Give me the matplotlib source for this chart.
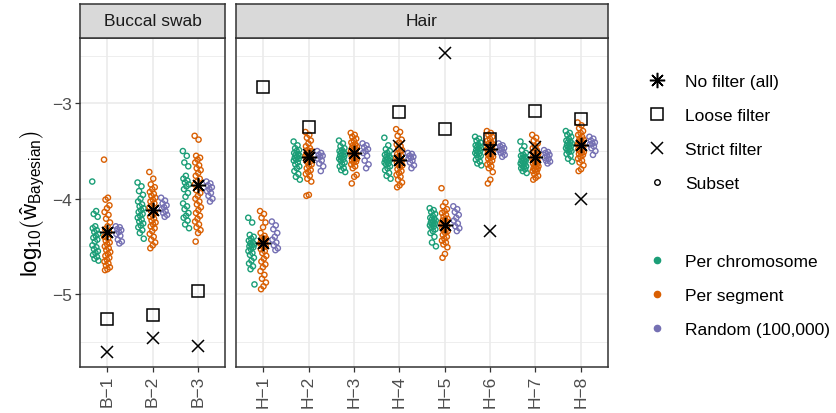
import numpy as np
import matplotlib
matplotlib.use('Agg')
import matplotlib.pyplot as plt
from matplotlib.lines import Line2D

plt.rcParams['font.family'] = ['Liberation Sans', 'DejaVu Sans']
plt.rcParams['mathtext.fontset'] = 'custom'
plt.rcParams['mathtext.rm'] = 'Liberation Sans'
plt.rcParams['mathtext.it'] = 'Liberation Sans:italic'
plt.rcParams['mathtext.bf'] = 'Liberation Sans:bold'

# samples
buccal = ['B\u22121', 'B\u22122', 'B\u22123']
hair = ['H\u22121', 'H\u22122', 'H\u22123', 'H\u22124', 'H\u22125', 'H\u22126', 'H\u22127', 'H\u22128']

# subset estimates, log10 scale
chrom_b1 = [-3.82, -4.13, -4.16, -4.19, -4.29, -4.31, -4.33, -4.35, -4.37, -4.39, -4.41, -4.43, -4.45, -4.49, -4.51, -4.53, -4.55, -4.57, -4.59, -4.61, -4.63, -4.65]
seg_b1 = [-3.59, -3.99, -4.01, -4.07, -4.10, -4.14, -4.17, -4.21, -4.25, -4.29, -4.32, -4.35, -4.38, -4.40, -4.42, -4.44, -4.46, -4.48, -4.50, -4.52, -4.54, -4.56, -4.58, -4.60, -4.62, -4.64, -4.66, -4.68, -4.70, -4.72, -4.74, -4.75]
rand_b1 = [-4.29, -4.30, -4.32, -4.33, -4.35, -4.37, -4.39, -4.43, -4.45, -4.47]

chrom_b2 = [-3.83, -3.87, -3.92, -3.96, -4.00, -4.03, -4.06, -4.08, -4.10, -4.12, -4.14, -4.16, -4.18, -4.20, -4.22, -4.24, -4.26, -4.28, -4.30, -4.33, -4.36, -4.42]
seg_b2 = [-3.72, -3.79, -3.85, -3.88, -3.90, -3.93, -3.95, -3.97, -3.99, -4.01, -4.03, -4.05, -4.07, -4.09, -4.11, -4.13, -4.15, -4.17, -4.19, -4.21, -4.23, -4.25, -4.27, -4.29, -4.31, -4.34, -4.37, -4.40, -4.43, -4.46, -4.49, -4.52]
rand_b2 = [-3.99, -4.02, -4.05, -4.07, -4.09, -4.11, -4.13, -4.15, -4.17, -4.19]

chrom_b3 = [-3.50, -3.55, -3.62, -3.66, -3.76, -3.79, -3.81, -3.83, -3.85, -3.87, -3.90, -3.94, -3.98, -4.05, -4.08, -4.11, -4.15, -4.18, -4.20, -4.23, -4.27, -4.31]
seg_b3 = [-3.34, -3.38, -3.55, -3.57, -3.59, -3.62, -3.65, -3.68, -3.70, -3.73, -3.76, -3.79, -3.82, -3.85, -3.88, -3.91, -3.94, -3.97, -4.00, -4.03, -4.06, -4.09, -4.12, -4.15, -4.18, -4.21, -4.24, -4.27, -4.30, -4.33, -4.36, -4.45]
rand_b3 = [-3.82, -3.84, -3.86, -3.88, -3.90, -3.92, -3.94, -3.97, -4.00, -4.03]

chrom_h1 = [-4.20, -4.25, -4.38, -4.40, -4.42, -4.44, -4.46, -4.47, -4.48, -4.49, -4.50, -4.51, -4.53, -4.55, -4.57, -4.59, -4.62, -4.65, -4.68, -4.71, -4.74, -4.90]
seg_h1 = [-4.13, -4.16, -4.20, -4.25, -4.30, -4.36, -4.39, -4.41, -4.42, -4.43, -4.44, -4.45, -4.46, -4.47, -4.48, -4.49, -4.50, -4.51, -4.53, -4.55, -4.57, -4.60, -4.63, -4.66, -4.69, -4.72, -4.76, -4.80, -4.84, -4.88, -4.92, -4.95]
rand_h1 = [-4.24, -4.28, -4.32, -4.36, -4.40, -4.43, -4.46, -4.49, -4.52, -4.54]

chrom_h2 = [-3.40, -3.44, -3.47, -3.49, -3.50, -3.52, -3.53, -3.54, -3.55, -3.56, -3.57, -3.58, -3.59, -3.60, -3.62, -3.64, -3.66, -3.68, -3.71, -3.74, -3.77, -3.80]
seg_h2 = [-3.30, -3.33, -3.36, -3.39, -3.42, -3.45, -3.47, -3.49, -3.50, -3.51, -3.52, -3.53, -3.54, -3.55, -3.56, -3.57, -3.58, -3.59, -3.60, -3.61, -3.62, -3.64, -3.66, -3.68, -3.70, -3.72, -3.74, -3.76, -3.79, -3.82, -3.96, -3.97]
rand_h2 = [-3.50, -3.52, -3.54, -3.55, -3.56, -3.58, -3.60, -3.63, -3.66, -3.71]

chrom_h3 = [-3.39, -3.42, -3.45, -3.47, -3.49, -3.50, -3.51, -3.52, -3.53, -3.54, -3.55, -3.56, -3.57, -3.58, -3.59, -3.60, -3.62, -3.64, -3.66, -3.68, -3.70, -3.72]
seg_h3 = [-3.31, -3.33, -3.35, -3.37, -3.39, -3.41, -3.43, -3.44, -3.45, -3.46, -3.47, -3.48, -3.49, -3.50, -3.51, -3.52, -3.53, -3.54, -3.55, -3.56, -3.57, -3.58, -3.59, -3.60, -3.61, -3.62, -3.64, -3.66, -3.68, -3.75, -3.77, -3.84]
rand_h3 = [-3.42, -3.44, -3.46, -3.48, -3.50, -3.52, -3.55, -3.60, -3.64, -3.68]

chrom_h4 = [-3.36, -3.44, -3.48, -3.50, -3.52, -3.54, -3.55, -3.56, -3.57, -3.58, -3.59, -3.60, -3.61, -3.62, -3.63, -3.64, -3.66, -3.68, -3.70, -3.73, -3.76, -3.79]
seg_h4 = [-3.27, -3.30, -3.34, -3.38, -3.41, -3.43, -3.45, -3.47, -3.49, -3.51, -3.53, -3.55, -3.56, -3.57, -3.58, -3.59, -3.60, -3.61, -3.62, -3.63, -3.64, -3.65, -3.67, -3.69, -3.71, -3.73, -3.75, -3.77, -3.80, -3.83, -3.86, -3.88]
rand_h4 = [-3.52, -3.53, -3.55, -3.56, -3.57, -3.58, -3.60, -3.62, -3.65, -3.68]

chrom_h5 = [-4.10, -4.12, -4.14, -4.16, -4.18, -4.20, -4.21, -4.22, -4.23, -4.24, -4.25, -4.26, -4.27, -4.28, -4.29, -4.30, -4.32, -4.34, -4.36, -4.40, -4.46, -4.50]
seg_h5 = [-3.89, -4.04, -4.08, -4.11, -4.13, -4.15, -4.17, -4.19, -4.21, -4.22, -4.23, -4.24, -4.25, -4.26, -4.27, -4.28, -4.29, -4.30, -4.31, -4.32, -4.33, -4.34, -4.36, -4.38, -4.40, -4.42, -4.44, -4.46, -4.48, -4.51, -4.58, -4.62]
rand_h5 = [-4.08, -4.11, -4.14, -4.17, -4.20, -4.23, -4.26, -4.29, -4.31, -4.34]

chrom_h6 = [-3.35, -3.37, -3.39, -3.41, -3.43, -3.44, -3.45, -3.46, -3.47, -3.48, -3.49, -3.50, -3.51, -3.52, -3.53, -3.54, -3.55, -3.57, -3.59, -3.61, -3.63, -3.65]
seg_h6 = [-3.29, -3.31, -3.33, -3.35, -3.37, -3.39, -3.41, -3.42, -3.43, -3.44, -3.45, -3.46, -3.47, -3.48, -3.49, -3.50, -3.51, -3.52, -3.53, -3.54, -3.55, -3.56, -3.57, -3.58, -3.60, -3.62, -3.64, -3.66, -3.68, -3.72, -3.80, -3.84]
rand_h6 = [-3.42, -3.44, -3.45, -3.47, -3.48, -3.49, -3.51, -3.52, -3.54, -3.56]

chrom_h7 = [-3.40, -3.45, -3.49, -3.52, -3.54, -3.55, -3.56, -3.57, -3.58, -3.59, -3.60, -3.61, -3.62, -3.63, -3.64, -3.65, -3.66, -3.67, -3.68, -3.69, -3.71, -3.73]
seg_h7 = [-3.33, -3.36, -3.39, -3.42, -3.45, -3.47, -3.49, -3.51, -3.53, -3.54, -3.55, -3.56, -3.57, -3.58, -3.59, -3.60, -3.61, -3.62, -3.63, -3.64, -3.65, -3.66, -3.67, -3.68, -3.69, -3.70, -3.71, -3.72, -3.74, -3.76, -3.78, -3.80]
rand_h7 = [-3.49, -3.51, -3.52, -3.54, -3.55, -3.57, -3.58, -3.60, -3.61, -3.63]

chrom_h8 = [-3.29, -3.31, -3.33, -3.35, -3.37, -3.39, -3.40, -3.41, -3.42, -3.43, -3.44, -3.45, -3.46, -3.47, -3.48, -3.49, -3.50, -3.51, -3.53, -3.55, -3.58, -3.61]
seg_h8 = [-3.20, -3.23, -3.26, -3.29, -3.31, -3.33, -3.35, -3.37, -3.38, -3.39, -3.40, -3.41, -3.42, -3.43, -3.44, -3.45, -3.46, -3.47, -3.48, -3.49, -3.50, -3.51, -3.52, -3.53, -3.54, -3.56, -3.58, -3.60, -3.62, -3.65, -3.69, -3.71]
rand_h8 = [-3.35, -3.37, -3.39, -3.41, -3.42, -3.43, -3.45, -3.47, -3.50, -3.54]

# whole-data estimates, order B-1..B-3, H-1..H-8
no_filter = [-4.35, -4.12, -3.86, -4.47, -3.56, -3.52, -3.59, -4.28, -3.48, -3.56, -3.44]
loose_filter = [-5.26, -5.22, -4.97, -2.83, -3.25, np.nan, -3.09, -3.27, -3.37, -3.08, -3.16]
strict_filter = [-5.61, -5.46, -5.55, np.nan, -3.54, np.nan, -3.45, -2.47, -4.34, -3.46, -4.00]

chrom = [chrom_b1, chrom_b2, chrom_b3, chrom_h1, chrom_h2, chrom_h3, chrom_h4, chrom_h5, chrom_h6, chrom_h7, chrom_h8]
seg = [seg_b1, seg_b2, seg_b3, seg_h1, seg_h2, seg_h3, seg_h4, seg_h5, seg_h6, seg_h7, seg_h8]
rand = [rand_b1, rand_b2, rand_b3, rand_h1, rand_h2, rand_h3, rand_h4, rand_h5, rand_h6, rand_h7, rand_h8]

GREEN, ORANGE, PURPLE = '#1B9E77', '#D95F02', '#7570B3'
ASTER = (8, 2, 0)

allv = np.concatenate([np.concatenate(chrom), np.concatenate(seg), np.concatenate(rand),
                       no_filter, loose_filter, strict_filter])
lo, hi = np.nanmin(allv), np.nanmax(allv)
ylim = (lo - 0.05 * (hi - lo), hi + 0.05 * (hi - lo))


def spread(n, width=0.07):
    # even, non-random horizontal spread
    return (np.modf(np.arange(n) * 0.618034)[0] - 0.5) * 2 * width


W, H = 836, 414
fig = plt.figure(figsize=(W / 100, H / 100), dpi=100)


def box(x0, y0, x1, y1):
    return [x0 / W, 1 - y1 / H, (x1 - x0) / W, (y1 - y0) / H]


def panel(ax, strip, labels, idx, title, show_y):
    for k, i in enumerate(idx):
        x = k + 1
        for vals, off, col in [(chrom[i], -0.26, GREEN), (seg[i], 0.0, ORANGE), (rand[i], 0.26, PURPLE)]:
            xs = x + off + spread(len(vals))
            ax.scatter(xs, vals, s=14, facecolors='none', edgecolors=col, linewidths=1.0, zorder=3)
        ax.plot(x, loose_filter[i], marker='s', ms=8.5, mfc='none', mec='black', mew=1.1, zorder=4)
        ax.plot(x, strict_filter[i], marker='x', ms=8.5, mec='black', mew=1.1, zorder=4)
        ax.plot(x, no_filter[i], marker=ASTER, ms=11, mec='black', mew=1.1, zorder=5)
    ax.set_xlim(0.4, len(labels) + 0.6)
    ax.set_ylim(*ylim)
    ax.set_xticks(range(1, len(labels) + 1))
    ax.set_xticklabels(labels, rotation=90)
    ax.set_yticks([-5, -4, -3])
    ax.set_yticklabels(['\u22125', '\u22124', '\u22123'])
    ax.set_yticks([-5.5, -4.5, -3.5, -2.5], minor=True)
    ax.grid(which='major', color='#EBEBEB', lw=1.2, zorder=0)
    ax.grid(which='minor', axis='y', color='#EBEBEB', lw=0.6, zorder=0)
    ax.set_axisbelow(True)
    ax.tick_params(which='major', length=3.5, width=0.9, color='#333333',
                   labelsize=12.5, labelcolor='#4D4D4D', pad=2)
    ax.tick_params(which='minor', length=0)
    if not show_y:
        ax.tick_params(axis='y', which='both', left=False, labelleft=False)
    for sp in ax.spines.values():
        sp.set_color('#333333')
        sp.set_linewidth(1.1)
    strip.set_facecolor('#D9D9D9')
    strip.set_xticks([])
    strip.set_yticks([])
    for sp in strip.spines.values():
        sp.set_color('#333333')
        sp.set_linewidth(1.1)
    strip.text(0.5, 0.5, title, ha='center', va='center', fontsize=12.5, color='#1A1A1A',
               transform=strip.transAxes)


ax1 = fig.add_axes(box(80, 39, 225, 368))
st1 = fig.add_axes(box(80, 5, 225, 39))
ax2 = fig.add_axes(box(236, 39, 608, 368))
st2 = fig.add_axes(box(236, 5, 608, 39))

panel(ax1, st1, buccal, [0, 1, 2], 'Buccal swab', True)
panel(ax2, st2, hair, list(range(3, 11)), 'Hair', False)

ax1.set_ylabel(r'$\mathrm{log}_{10}\left(\hat{\mathrm{w}}_{\mathrm{Bayesian}}\right)$',
               fontsize=16, color='black', labelpad=4)

shape_handles = [
    Line2D([], [], ls='none', marker=ASTER, ms=11, mec='black', mew=1.1),
    Line2D([], [], ls='none', marker='s', ms=8.5, mfc='none', mec='black', mew=1.1),
    Line2D([], [], ls='none', marker='x', ms=8.5, mec='black', mew=1.1),
    Line2D([], [], ls='none', marker='o', ms=4, mfc='none', mec='black', mew=1.0),
]
shape_labels = ['No filter (all)', 'Loose filter', 'Strict filter', 'Subset']
col_handles = [Line2D([], [], ls='none', marker='o', ms=4.5, mfc=c, mec=c) for c in (GREEN, ORANGE, PURPLE)]
col_labels = ['Per chromosome', 'Per segment', 'Random (100,000)']

leg_kw = dict(frameon=False, loc='upper left', fontsize=12.5, handlelength=2.0,
              handletextpad=0.6, labelspacing=1.08, borderpad=0, borderaxespad=0)
fig.legend(shape_handles, shape_labels, bbox_to_anchor=(640 / W, 1 - 75 / H), **leg_kw)
fig.legend(col_handles, col_labels, bbox_to_anchor=(640 / W, 1 - 255 / H), **leg_kw)

fig.savefig('out.png', dpi=100)
